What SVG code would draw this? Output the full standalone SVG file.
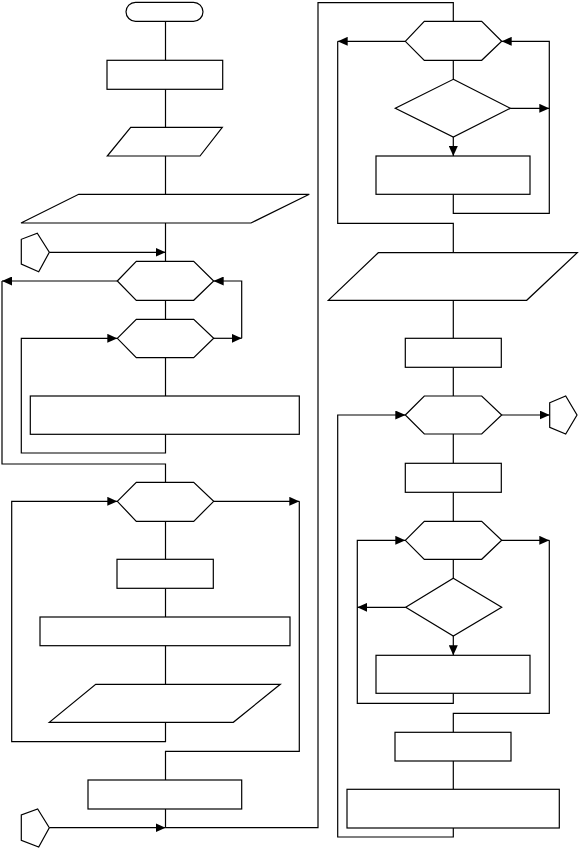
<svg xmlns="http://www.w3.org/2000/svg" width="579" height="849" viewBox="0 0 579 849">
<style>
.n{fill:#fff;stroke:#000;stroke-width:1.2}
.c{fill:none;stroke:#000;stroke-width:1.2}
.a{marker-end:url(#ah)}
</style>
<defs>
<marker id="ah" markerUnits="userSpaceOnUse" markerWidth="10" markerHeight="9" refX="10" refY="4.5" orient="auto"><path d="M0,0 L10,4.5 L0,9 z" fill="#000"/></marker>
</defs>
<rect width="579" height="849" fill="#fff"/>
<g id="connectors">
<path class="c" d="M165.5,21 V60.3"/>
<path class="c" d="M165.5,89.3 V127.3"/>
<path class="c" d="M165.5,156 V194.3"/>
<path class="c" d="M165.5,223 V261.3"/>
<path class="c a" d="M49.3,252.3 H165.5"/>
<path class="c a" d="M117.3,281 H2"/>
<path class="c" d="M2,281 V464 H165.5 V482.3"/>
<path class="c" d="M165.5,300.3 V319.3"/>
<path class="c a" d="M213.7,338.3 H241.7"/>
<path class="c a" d="M241.7,338.3 V281 H213.7"/>
<path class="c" d="M165.5,357.7 V396"/>
<path class="c a" d="M165.5,434.3 V453 H21.3 V338.3 H117.3"/>
<path class="c a" d="M213.7,501.3 H299.3"/>
<path class="c" d="M299.3,501.3 V751.3 H165.5 V780"/>
<path class="c" d="M165.5,521.3 V559.3"/>
<path class="c" d="M165.5,588.3 V617"/>
<path class="c" d="M165.5,645.7 V684.3"/>
<path class="c a" d="M165.5,722.3 V741.7 H11.7 V501.3 H117.3"/>
<path class="c" d="M165.5,809 V827.7"/>
<path class="c a" d="M49.3,827.7 H165.5"/>
<path class="c" d="M165.5,827.7 H318 V2.7 H453.3 V21.3"/>
<path class="c a" d="M405.3,41.3 H337.7"/>
<path class="c" d="M337.7,41.3 V223.3 H453.3 V252.7"/>
<path class="c" d="M453.3,60.3 V79.3"/>
<path class="c a" d="M510.3,108.3 H549.3"/>
<path class="c a" d="M453.3,194.3 V213.3 H549.3 V41.3 H501.7"/>
<path class="c a" d="M453.3,137 V156"/>
<path class="c" d="M453.3,300.3 V338.3"/>
<path class="c" d="M453.3,367.3 V396"/>
<path class="c a" d="M501.7,415 H549.7"/>
<path class="c" d="M453.3,434 V463.3"/>
<path class="c" d="M453.3,492.3 V521.3"/>
<path class="c a" d="M501.7,540.3 H549.3"/>
<path class="c" d="M549.3,540.3 V713.3 H453.3 V732.3"/>
<path class="c" d="M453.3,559.3 V578.3"/>
<path class="c a" d="M405.7,607.3 H357.3"/>
<path class="c a" d="M453.3,636 V655.3"/>
<path class="c a" d="M453.3,693.3 V703.3 H357.3 V540.3 H405.3"/>
<path class="c" d="M453.3,761 V789.3"/>
<path class="c a" d="M453.3,828 V837 H337.7 V415 H405.3"/>
</g>
<g id="start"><rect class="n" x="126" y="2.3" width="77" height="19" rx="9.5"/></g>
<g id="p1"><rect class="n" x="107" y="60.3" width="115.7" height="29"/></g>
<g id="io1"><polygon class="n" points="130.7,127.3 222.3,127.3 200,156 107.3,156"/></g>
<g id="io2"><polygon class="n" points="78.7,194.3 309.3,194.3 251,223 21,223"/></g>
<g id="con1"><polygon class="n" points="37.3,233.3 49.3,252.3 38.7,271.7 21.3,264 21.3,239.3"/></g>
<g id="hex1"><polygon class="n" points="117.3,281 136.3,261.3 193.7,261.3 213.7,281 193.7,300.3 136.3,300.3"/></g>
<g id="hex2"><polygon class="n" points="117.3,338.3 136.3,319.3 193.7,319.3 213.7,338.3 193.7,357.7 136.3,357.7"/></g>
<g id="p2"><rect class="n" x="30.3" y="396" width="269" height="38.3"/></g>
<g id="hex3"><polygon class="n" points="117.3,501.3 136.3,482.3 193.7,482.3 213.7,501.3 193.7,521.3 136.3,521.3"/></g>
<g id="p3"><rect class="n" x="117" y="559.3" width="96.3" height="29"/></g>
<g id="p4"><rect class="n" x="40" y="617" width="250" height="28.7"/></g>
<g id="io3"><polygon class="n" points="95.7,684.3 280.3,684.3 233.3,722.3 49.3,722.3"/></g>
<g id="p5"><rect class="n" x="88" y="780" width="153.7" height="29"/></g>
<g id="con2"><polygon class="n" points="37.7,809 49.3,827.7 38.7,847 21.3,840.3 21.3,815"/></g>
<g id="hex4"><polygon class="n" points="405.3,41.3 424.3,21.3 481.7,21.3 501.7,41.3 481.7,60.3 424.3,60.3"/></g>
<g id="d1"><polygon class="n" points="453.3,79.3 510.3,108.3 453.3,137 395.3,108.3"/></g>
<g id="p6"><rect class="n" x="376" y="156" width="154" height="38.3"/></g>
<g id="io4"><polygon class="n" points="378.3,252.7 577.3,252.7 526.7,300.3 328.3,300.3"/></g>
<g id="p7"><rect class="n" x="405.3" y="338.3" width="96" height="29"/></g>
<g id="hex5"><polygon class="n" points="405.3,415 424.3,396 481.7,396 501.7,415 481.7,434 424.3,434"/></g>
<g id="con3"><polygon class="n" points="549.7,402.7 565.7,396 577,415 565.7,434 549.7,427.3"/></g>
<g id="p8"><rect class="n" x="405.3" y="463.3" width="96" height="29"/></g>
<g id="hex6"><polygon class="n" points="405.3,540.3 424.3,521.3 481.7,521.3 501.7,540.3 481.7,559.3 424.3,559.3"/></g>
<g id="d2"><polygon class="n" points="453.3,578.3 501.7,607.3 453.3,636 405.7,607.3"/></g>
<g id="p9"><rect class="n" x="376" y="655.3" width="154" height="38"/></g>
<g id="p10"><rect class="n" x="395" y="732.3" width="116" height="28.7"/></g>
<g id="p11"><rect class="n" x="347" y="789.3" width="212.3" height="38.7"/></g>
</svg>
